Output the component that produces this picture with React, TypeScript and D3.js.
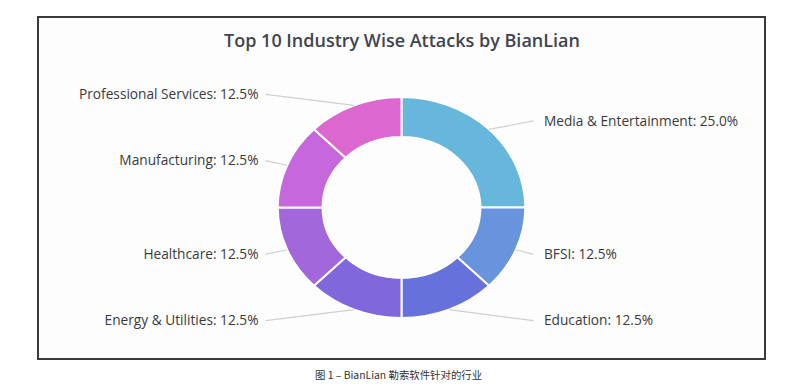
import React from "react";
import * as d3 from "d3";

const categories = [
  "Media & Entertainment",
  "BFSI",
  "Education",
  "Energy & Utilities",
  "Healthcare",
  "Manufacturing",
  "Professional Services",
];
const values = [25.0, 12.5, 12.5, 12.5, 12.5, 12.5, 12.5];
const colors = ["#67b7dc", "#6794dc", "#6771dc", "#8067dc", "#a367dc", "#c767dc", "#dc67ce"];
const title = "Top 10 Industry Wise Attacks by BianLian";
const caption = "图 1 – BianLian 勒索软件针对的行业";

export default function App() {
  const W = 806, H = 384;
  const cx = 401.5, cy = 207.5;
  const ry = 110.5, ryIn = 70.5, sx = 1.12;
  const labelR = 122.5;
  const data = categories.map((c, i) => ({ c, v: values[i], col: colors[i] }));
  const pie = d3.pie<any>().sort(null).value((d: any) => d.v).startAngle(0).endAngle(2 * Math.PI);
  const arcs = pie(data);
  const arc = d3.arc<any>().innerRadius(ryIn).outerRadius(ry);
  const font = "'Open Sans', 'Noto Sans', sans-serif";
  return (
    <svg width={W} height={H} style={{ position: "absolute", left: 0, top: 0, background: "#fff" }}>
      <rect x={38} y={17} width={727} height={342} fill="#fdfdfd" stroke="#3a3a3a" strokeWidth={2} />
      <text x={402} y={42.5} textAnchor="middle" dominantBaseline="middle" fontFamily={font} fontSize={18} fontWeight={600} fill="#40444f">
        {title}
      </text>
      <g transform={`translate(${cx},${cy}) scale(${sx},1)`}>
        {arcs.map((a, i) => (
          <path key={i} d={arc(a) as string} fill={a.data.col} stroke="#fff" strokeWidth={2} vectorEffect="non-scaling-stroke" />
        ))}
      </g>
      {arcs.map((a, i) => {
        const m = (a.startAngle + a.endAngle) / 2;
        const right = Math.sin(m) >= 0;
        const ex = cx + ry * sx * Math.sin(m);
        const ey = cy - ry * Math.cos(m);
        const ly = cy - labelR * Math.cos(m);
        const lx = right ? cx + 132 : cx - 136;
        const tx = right ? cx + 142.5 : cx - 143;
        return (
          <g key={i}>
            <polyline points={`${ex},${ey} ${lx},${ly}`} fill="none" stroke="#cfcfcf" strokeWidth={1.2} />
            <text x={tx} y={ly + 1} textAnchor={right ? "start" : "end"} dominantBaseline="middle" fontFamily={font} fontSize={13.7} fill="#3a3a3a">
              {`${a.data.c}: ${a.data.v.toFixed(1)}%`}
            </text>
          </g>
        );
      })}
      <text x={398.5} y={376} textAnchor="middle" dominantBaseline="middle" fontFamily="'Noto Sans CJK SC', 'Noto Sans', sans-serif" fontSize={10.4} fill="#333">
        {caption}
      </text>
    </svg>
  );
}
